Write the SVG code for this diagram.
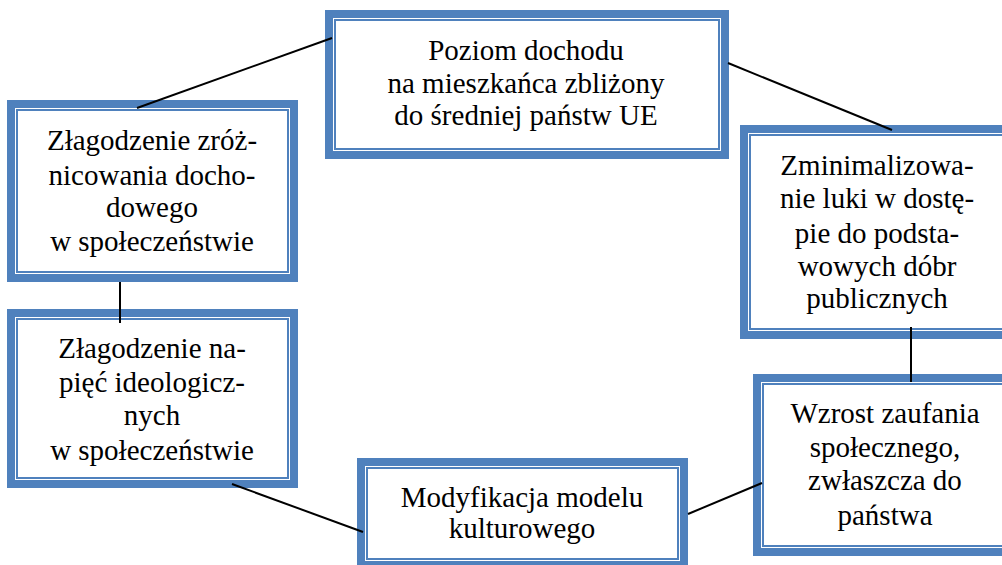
<svg xmlns="http://www.w3.org/2000/svg" width="1002" height="565" viewBox="0 0 1002 565">
<style>
.band{fill:none;stroke:#4F81BD;stroke-width:8}
.halo{fill:none;stroke:#A9C0DF;stroke-width:1}
.thin{fill:none;stroke:#4F81BD;stroke-width:2}
.bg{fill:#FFFFFF}
.t{font-size:29px;fill:#000;text-anchor:middle}
.c{stroke:#000;stroke-width:2;fill:none}
</style>
<rect width="1002" height="565" fill="#FFFFFF"/>
<g font-family="'Liberation Serif', 'Times New Roman', Times, 'DejaVu Serif', serif">
<g id="n1">
<rect class="bg" x="333" y="18" width="388" height="133"/>
<rect class="halo" x="325.5" y="10.5" width="403" height="148"/>
<rect class="band" x="329" y="14" width="396" height="141"/>
<rect class="thin" x="335" y="20" width="384" height="129"/>
<text class="t" x="526" y="60">Poziom dochodu</text>
<text class="t" x="526" y="93">na mieszkańca zbliżony</text>
<text class="t" x="526" y="125">do średniej państw UE</text>
</g>
<g id="n2">
<rect class="bg" x="15" y="108" width="275" height="166"/>
<rect class="halo" x="7.5" y="100.5" width="290" height="181"/>
<rect class="band" x="11" y="104" width="283" height="174"/>
<rect class="thin" x="17" y="110" width="271" height="162"/>
<text class="t" x="152" y="150">Złagodzenie zróż-</text>
<text class="t" x="152" y="185">nicowania docho-</text>
<text class="t" x="152" y="217">dowego</text>
<text class="t" x="152" y="251">w społeczeństwie</text>
</g>
<g id="n3">
<rect class="bg" x="748" y="133" width="258" height="198"/>
<rect class="halo" x="740.5" y="125.5" width="273" height="213"/>
<rect class="band" x="744" y="129" width="266" height="206"/>
<rect class="thin" x="750" y="135" width="254" height="194"/>
<text class="t" x="877" y="175">Zminimalizowa-</text>
<text class="t" x="877" y="208">nie luki w dostę-</text>
<text class="t" x="877" y="243">pie do podsta-</text>
<text class="t" x="877" y="276">wowych dóbr</text>
<text class="t" x="877" y="308">publicznych</text>
</g>
<g id="n4">
<rect class="bg" x="15" y="317" width="275" height="163"/>
<rect class="halo" x="7.5" y="309.5" width="290" height="178"/>
<rect class="band" x="11" y="313" width="283" height="171"/>
<rect class="thin" x="17" y="319" width="271" height="159"/>
<text class="t" x="152" y="358">Złagodzenie na-</text>
<text class="t" x="152" y="392">pięć ideologicz-</text>
<text class="t" x="152" y="425">nych</text>
<text class="t" x="152" y="460">w społeczeństwie</text>
</g>
<g id="n5">
<rect class="bg" x="365" y="466" width="315" height="95"/>
<rect class="halo" x="357.5" y="458.5" width="330" height="110"/>
<rect class="band" x="361" y="462" width="323" height="103"/>
<rect class="thin" x="367" y="468" width="311" height="91"/>
<text class="t" x="522" y="507">Modyfikacja modelu</text>
<text class="t" x="522" y="538">kulturowego</text>
</g>
<g id="n6">
<rect class="bg" x="761" y="382" width="248" height="166"/>
<rect class="halo" x="753.5" y="374.5" width="263" height="181"/>
<rect class="band" x="757" y="378" width="256" height="174"/>
<rect class="thin" x="763" y="384" width="244" height="162"/>
<text class="t" x="885" y="423">Wzrost zaufania</text>
<text class="t" x="885" y="457">społecznego,</text>
<text class="t" x="885" y="490">zwłaszcza do</text>
<text class="t" x="885" y="525">państwa</text>
</g>
</g>
<g id="connectors">
<line class="c" x1="332" y1="38" x2="137" y2="108"/>
<line class="c" x1="728" y1="63" x2="892" y2="130"/>
<line class="c" x1="120" y1="282" x2="120" y2="323"/>
<line class="c" x1="911" y1="327" x2="911" y2="382"/>
<line class="c" x1="232" y1="484" x2="363" y2="532"/>
<line class="c" x1="688" y1="514" x2="762" y2="483"/>
</g>
</svg>
